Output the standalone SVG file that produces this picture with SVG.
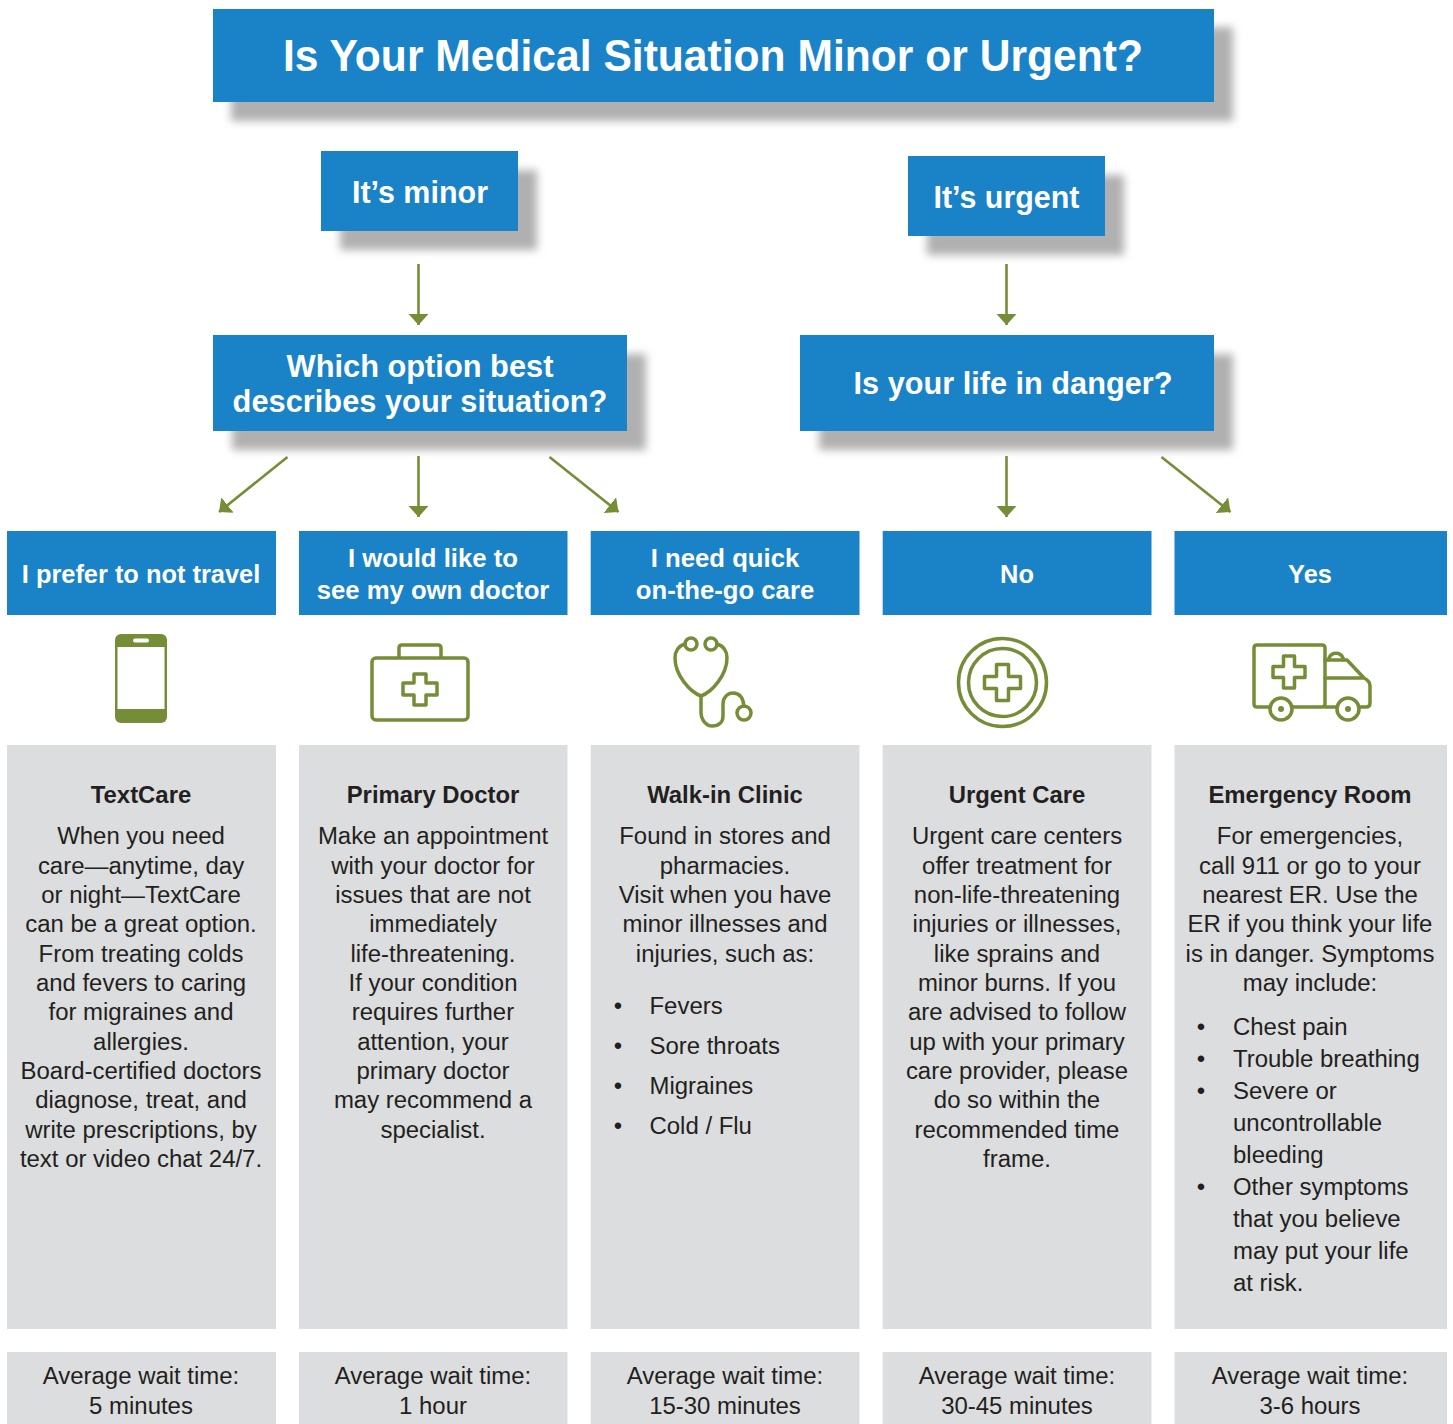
<svg xmlns="http://www.w3.org/2000/svg" width="1453" height="1424" viewBox="0 0 1453 1424">
<style>
text{font-family:"Liberation Sans",Arial,sans-serif;text-anchor:middle}
.b{fill:#1a82c7}
.g{fill:#dcddde}
.s{fill:#b0b0b0;filter:url(#blur)}
.w{fill:#fff;font-weight:700}
.t{fill:#231f20;font-size:23.95px}
.h{fill:#231f20;font-size:23.9px;font-weight:700}
.l{text-anchor:start}
.i{fill:none;stroke:#758d36;stroke-width:3.5;stroke-linejoin:round;stroke-linecap:round}
.c{fill:none;stroke:#758d36;stroke-width:2.6;marker-end:url(#ah)}
</style>
<defs>
<filter id="blur" x="-10%" y="-30%" width="120%" height="160%"><feGaussianBlur stdDeviation="4.500"/></filter>
<marker id="ah" markerUnits="userSpaceOnUse" markerWidth="24" markerHeight="24" refX="11" refY="10" orient="auto"><path d="M0,0 L11,10 L0,20 Z" fill="#758d36"/></marker>
</defs>
<rect width="1453" height="1424" fill="#fff"/>

<g id="connectors">
<path class="c" d="M418.500,264V325"/>
<path class="c" d="M1006.500,264V325"/>
<path class="c" d="M287.500,457L219,512"/>
<path class="c" d="M418.500,456V517"/>
<path class="c" d="M549.500,457L618.500,512"/>
<path class="c" d="M1006.500,456V517"/>
<path class="c" d="M1161.500,457L1230.500,512"/>
</g>

<g id="title"><rect class="s" x="231" y="27" width="1002" height="94"/><rect class="b" x="213" y="9" width="1001" height="93"/>
<text class="w" x="713" y="71" font-size="44" textLength="860" lengthAdjust="spacingAndGlyphs">Is Your Medical Situation Minor or Urgent?</text></g>
<g id="minor"><rect class="s" x="340" y="170" width="197" height="80"/><rect class="b" x="321" y="151" width="197" height="80"/>
<text class="w" x="420" y="203" font-size="31" textLength="136" lengthAdjust="spacingAndGlyphs">It’s minor</text></g>
<g id="urgent"><rect class="s" x="927" y="175" width="197" height="80"/><rect class="b" x="908" y="156" width="197" height="80"/>
<text class="w" x="1006.500" y="208" font-size="31" textLength="146" lengthAdjust="spacingAndGlyphs">It’s urgent</text></g>
<g id="which"><rect class="s" x="232" y="354" width="414" height="96"/><rect class="b" x="213" y="335" width="414" height="96"/>
<text class="w" x="420" y="377" font-size="30.8">Which option best</text><text class="w" x="420" y="412" font-size="30.8">describes your situation?</text></g>
<g id="danger"><rect class="s" x="819" y="354" width="414" height="96"/><rect class="b" x="800" y="335" width="414" height="96"/>
<text class="w" x="1013" y="394" font-size="30.7">Is your life in danger?</text></g>

<g id="opt-textcare"><rect class="b" x="7" y="531" width="269" height="84"/><text class="w" x="141" y="583" font-size="25.4">I prefer to not travel</text>
<g id="icon-phone"><rect x="115" y="634" width="52" height="89" rx="6" fill="#758d36"/><rect x="117.500" y="647" width="47" height="62" fill="#fff"/><rect x="133" y="638.500" width="16" height="4" rx="2" fill="#fff"/></g>
<rect class="g" x="7" y="745" width="269" height="584"/>
<text class="h" x="141" y="803">TextCare</text>
<text class="t" x="141" y="844">When you need</text>
<text class="t" x="141" y="874">care—anytime, day</text>
<text class="t" x="141" y="903">or night—TextCare</text>
<text class="t" x="141" y="932">can be a great option.</text>
<text class="t" x="141" y="962">From treating colds</text>
<text class="t" x="141" y="991">and fevers to caring</text>
<text class="t" x="141" y="1020">for migraines and</text>
<text class="t" x="141" y="1050">allergies.</text>
<text class="t" x="141" y="1079">Board-certified doctors</text>
<text class="t" x="141" y="1108">diagnose, treat, and</text>
<text class="t" x="141" y="1138">write prescriptions, by</text>
<text class="t" x="141" y="1167">text or video chat 24/7.</text>
<rect class="g" x="7" y="1352" width="269" height="72"/>
<text class="t" x="141" y="1384">Average wait time:</text><text class="t" x="141" y="1414">5 minutes</text></g>

<g id="opt-primary"><rect class="b" x="299" y="531" width="268.500" height="84"/><text class="w" x="433" y="567" font-size="25.7">I would like to</text><text class="w" x="433" y="599" font-size="25.7">see my own doctor</text>
<g id="icon-kit"><rect class="i" x="372" y="658" width="96" height="62" rx="4"/><path class="i" d="M399,657V648Q399,645 402,645H438Q441,645 441,648V657"/><path class="i" d="M414,674H426V683H437V695H426V705H414V695H403V683H414Z"/></g>
<rect class="g" x="299" y="745" width="268.500" height="584"/>
<text class="h" x="433" y="803">Primary Doctor</text>
<text class="t" x="433" y="844">Make an appointment</text>
<text class="t" x="433" y="874">with your doctor for</text>
<text class="t" x="433" y="903">issues that are not</text>
<text class="t" x="433" y="932">immediately</text>
<text class="t" x="433" y="962">life-threatening.</text>
<text class="t" x="433" y="991">If your condition</text>
<text class="t" x="433" y="1020">requires further</text>
<text class="t" x="433" y="1050">attention, your</text>
<text class="t" x="433" y="1079">primary doctor</text>
<text class="t" x="433" y="1108">may recommend a</text>
<text class="t" x="433" y="1138">specialist.</text>
<rect class="g" x="299" y="1352" width="268.500" height="72"/>
<text class="t" x="433" y="1384">Average wait time:</text><text class="t" x="433" y="1414">1 hour</text></g>

<g id="opt-walkin"><rect class="b" x="590.700" y="531" width="268.800" height="84"/><text class="w" x="725" y="567" font-size="25.7">I need quick</text><text class="w" x="725" y="599" font-size="25.7">on-the-go care</text>
<g id="icon-stethoscope"><circle class="i" cx="691" cy="644" r="6"/><circle class="i" cx="711" cy="644" r="6"/><circle class="i" cx="744" cy="713" r="7"/>
<path class="i" d="M685,644C678,646 675,652 675,658C675,675 690,692 701,696C712,692 727,675 727,658C727,652 724,646 717,644"/>
<path class="i" d="M701,696V712C701,721 707,726 712,726C719,726 723,722 723,716V704C723,697 728,693 733,693C739,693 743,697 744,706"/></g>
<rect class="g" x="590.700" y="745" width="268.800" height="584"/>
<text class="h" x="725" y="803">Walk-in Clinic</text>
<text class="t" x="725" y="844">Found in stores and</text>
<text class="t" x="725" y="874">pharmacies.</text>
<text class="t" x="725" y="903">Visit when you have</text>
<text class="t" x="725" y="932">minor illnesses and</text>
<text class="t" x="725" y="962">injuries, such as:</text>
<text class="t" x="618" y="1014">•</text><text class="t l" x="649.500" y="1014">Fevers</text>
<text class="t" x="618" y="1054">•</text><text class="t l" x="649.500" y="1054">Sore throats</text>
<text class="t" x="618" y="1094">•</text><text class="t l" x="649.500" y="1094">Migraines</text>
<text class="t" x="618" y="1134">•</text><text class="t l" x="649.500" y="1134">Cold / Flu</text>
<rect class="g" x="590.700" y="1352" width="268.800" height="72"/>
<text class="t" x="725" y="1384">Average wait time:</text><text class="t" x="725" y="1414">15-30 minutes</text></g>

<g id="opt-urgentcare"><rect class="b" x="882.700" y="531" width="268.800" height="84"/><text class="w" x="1017" y="583" font-size="25.4">No</text>
<g id="icon-cross"><circle class="i" cx="1002.500" cy="682.500" r="44"/><circle class="i" cx="1002.500" cy="682.500" r="34"/><path class="i" d="M996.500,664.500H1008.500V676.500H1020.500V688.500H1008.500V700.500H996.500V688.500H984.500V676.500H996.500Z"/></g>
<rect class="g" x="882.700" y="745" width="268.800" height="584"/>
<text class="h" x="1017" y="803">Urgent Care</text>
<text class="t" x="1017" y="844">Urgent care centers</text>
<text class="t" x="1017" y="874">offer treatment for</text>
<text class="t" x="1017" y="903">non-life-threatening</text>
<text class="t" x="1017" y="932">injuries or illnesses,</text>
<text class="t" x="1017" y="962">like sprains and</text>
<text class="t" x="1017" y="991">minor burns. If you</text>
<text class="t" x="1017" y="1020">are advised to follow</text>
<text class="t" x="1017" y="1050">up with your primary</text>
<text class="t" x="1017" y="1079">care provider, please</text>
<text class="t" x="1017" y="1108">do so within the</text>
<text class="t" x="1017" y="1138">recommended time</text>
<text class="t" x="1017" y="1167">frame.</text>
<rect class="g" x="882.700" y="1352" width="268.800" height="72"/>
<text class="t" x="1017" y="1384">Average wait time:</text><text class="t" x="1017" y="1414">30-45 minutes</text></g>

<g id="opt-er"><rect class="b" x="1174.500" y="531" width="272.500" height="84"/><text class="w" x="1310" y="583" font-size="25.4">Yes</text>
<g id="icon-ambulance"><path class="i" d="M1270,707H1257Q1254,707 1254,704V648Q1254,645 1257,645H1322Q1325,645 1325,648V704Q1325,707 1322,707H1292"/><path class="i" d="M1283.500,656H1294.500V666.500H1305V677.500H1294.500V688H1283.500V677.500H1273V666.500H1283.500Z"/>
<path class="i" d="M1325,660H1347L1364,678Q1370,681 1370,686V703Q1370,707 1366,707H1359M1337,707H1325M1325,678H1364"/><path class="i" d="M1329,660V658A7.5,7.5 0 0 1 1343,658V660"/>
<circle class="i" cx="1281" cy="709" r="11"/><circle cx="1281" cy="709" r="3" fill="#758d36"/><circle class="i" cx="1348" cy="709" r="11"/><circle cx="1348" cy="709" r="3" fill="#758d36"/></g>
<rect class="g" x="1174.500" y="745" width="272.500" height="584"/>
<text class="h" x="1310" y="803">Emergency Room</text>
<text class="t" x="1310" y="844">For emergencies,</text>
<text class="t" x="1310" y="874">call 911 or go to your</text>
<text class="t" x="1310" y="903">nearest ER. Use the</text>
<text class="t" x="1310" y="932">ER if you think your life</text>
<text class="t" x="1310" y="962">is in danger. Symptoms</text>
<text class="t" x="1310" y="991">may include:</text>
<text class="t" x="1201" y="1035">•</text><text class="t l" x="1233" y="1035">Chest pain</text>
<text class="t" x="1201" y="1067">•</text><text class="t l" x="1233" y="1067">Trouble breathing</text>
<text class="t" x="1201" y="1099">•</text><text class="t l" x="1233" y="1099">Severe or</text>
<text class="t l" x="1233" y="1131">uncontrollable</text>
<text class="t l" x="1233" y="1163">bleeding</text>
<text class="t" x="1201" y="1195">•</text><text class="t l" x="1233" y="1195">Other symptoms</text>
<text class="t l" x="1233" y="1227">that you believe</text>
<text class="t l" x="1233" y="1259">may put your life</text>
<text class="t l" x="1233" y="1291">at risk.</text>
<rect class="g" x="1174.500" y="1352" width="272.500" height="72"/>
<text class="t" x="1310" y="1384">Average wait time:</text><text class="t" x="1310" y="1414">3-6 hours</text></g>
</svg>
